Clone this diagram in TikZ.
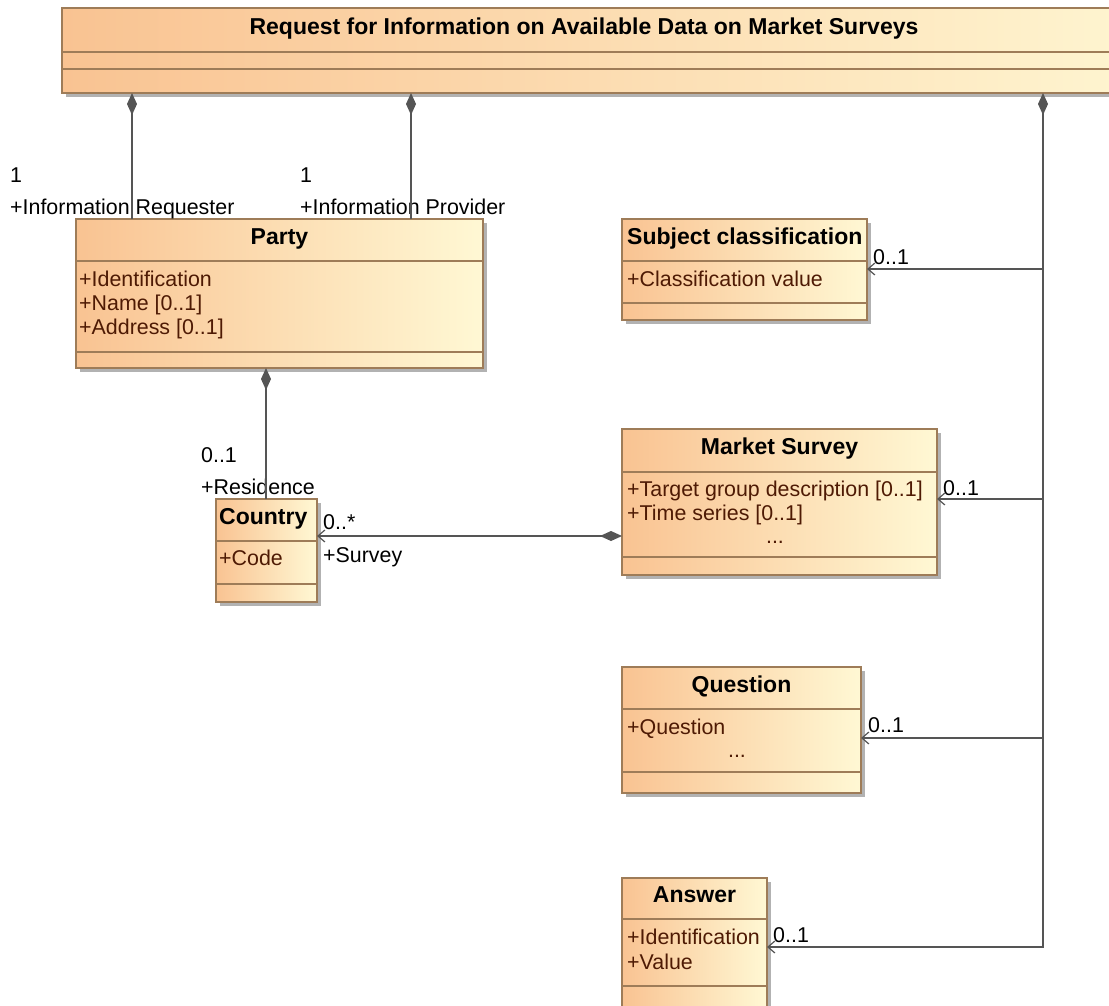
\documentclass[tikz,border=0pt]{standalone}
\usepackage{fontspec}
\setmainfont{Liberation Sans}
\usetikzlibrary{arrows.meta,shadows}
\definecolor{boxL}{HTML}{F9C392}
\definecolor{boxR}{HTML}{FFF8D4}
\definecolor{boxline}{HTML}{9E7C58}
\definecolor{wire}{HTML}{555555}
\definecolor{attrtext}{HTML}{4E1A04}
\begin{document}
\begin{tikzpicture}[x=1pt,y=-1pt,
  cls/.style={draw=boxline, line width=1.3pt, left color=boxL, right color=boxR,
    anchor=north west, inner sep=0pt, outer sep=0pt,
    drop shadow={shadow xshift=4pt, shadow yshift=-4pt, fill=black, opacity=0.3}},
  sep/.style={draw=boxline, line width=1.3pt},
  txt/.style={font=\fontsize{21.4}{24}\selectfont, inner sep=0pt, anchor=base west},
  attr/.style={txt, text=attrtext},
  ttl/.style={font=\fontsize{23}{26}\selectfont\bfseries, inner sep=0pt, anchor=base},
  ttlw/.style={ttl, anchor=base west},
  wireline/.style={draw=wire, line width=1.6pt},
  comp/.style={wireline, {Diamond[length=22pt,width=10pt,fill=wire]}-},
  assoc/.style={wireline, -{Straight Barb[length=7pt,width=12pt,line width=1.2pt]}},
  compassoc/.style={wireline, {Diamond[length=22pt,width=10pt,fill=wire]}-{Straight Barb[length=7pt,width=12pt,line width=1.2pt]}},
]
\useasboundingbox (0,0) rectangle (1109,1005);
\clip (0,0) rectangle (1109,1005);

% ---- classes ----
\node[cls, minimum width=1140pt, minimum height=85pt] (top) at (62,8) {};
\draw[sep] (62,52) -- (1202,52);
\draw[sep] (62,69) -- (1202,69);
\node[ttl] (topT) at (584,34) {Request for Information on Available Data on Market Surveys};

\node[cls, minimum width=407pt, minimum height=149pt] (party) at (76,219) {};
\draw[sep] (76,261) -- (483,261);
\draw[sep] (76,352) -- (483,352);
\node[ttl] (partyT) at (279.5,244) {Party};
\node[attr] (partyA1) at (79,286) {+Identification};
\node[attr] (partyA2) at (79,310) {+Name [0..1]};
\node[attr] (partyA3) at (79,334) {+Address [0..1]};

\node[cls, minimum width=101pt, minimum height=103pt] (country) at (216,499) {};
\draw[sep] (216,541) -- (317,541);
\draw[sep] (216,584) -- (317,584);
\node[ttlw] (countryT) at (219,524) {Country};
\node[attr] (countryA1) at (219,565) {+Code};

\node[cls, minimum width=245pt, minimum height=101pt] (subj) at (622,219) {};
\draw[sep] (622,261) -- (867,261);
\draw[sep] (622,303) -- (867,303);
\node[ttlw] (subjT) at (627,244) {Subject classification};
\node[attr] (subjA1) at (627,286) {+Classification value};

\node[cls, minimum width=315pt, minimum height=146pt] (survey) at (622,429) {};
\draw[sep] (622,472) -- (937,472);
\draw[sep] (622,557) -- (937,557);
\node[ttl] (surveyT) at (779.5,454) {Market Survey};
\node[attr] (surveyA1) at (627,496) {+Target group description [0..1]};
\node[attr] (surveyA2) at (627,520) {+Time series [0..1]};
\node[attr, anchor=base] (surveyA3) at (775,543) {...};

\node[cls, minimum width=239pt, minimum height=126pt] (question) at (622,667) {};
\draw[sep] (622,709) -- (861,709);
\draw[sep] (622,772) -- (861,772);
\node[ttl] (questionT) at (741.5,692) {Question};
\node[attr] (questionA1) at (627,734) {+Question};
\node[attr, anchor=base] (questionA2) at (737,757) {...};

\node[cls, minimum width=145pt, minimum height=160pt] (answer) at (622,878) {};
\draw[sep] (622,919) -- (767,919);
\draw[sep] (622,986) -- (767,986);
\node[ttl] (answerT) at (694.5,902) {Answer};
\node[attr] (answerA1) at (627,944) {+Identification};
\node[attr] (answerA2) at (627,969) {+Value};

% ---- role and multiplicity labels ----
\node[txt] (m1) at (10,182) {1};
\node[txt] (r1) at (10,214) {+Information Requester};
\node[txt] (m2) at (300,182) {1};
\node[txt] (r2) at (300,214) {+Information Provider};
\node[txt] (m3) at (201,462) {0..1};
\node[txt] (r3) at (201,494) {+Residence};
\node[txt] (m4) at (323,529) {0..*};
\node[txt] (r4) at (323,562) {+Survey};
\node[txt] (m5) at (873,264) {0..1};
\node[txt] (m6) at (943,495) {0..1};
\node[txt] (m7) at (868,732) {0..1};
\node[txt] (m8) at (773,942) {0..1};

% ---- connector guides ----
\coordinate (xReq) at (132,0);
\coordinate (xProv) at (411,0);
\coordinate (xRes) at (266,0);
\coordinate (xSp) at (1043,0);
\coordinate (ySubj) at (0,269);
\coordinate (yMS) at (0,499);
\coordinate (yQ) at (0,738);
\coordinate (yA) at (0,947);
\coordinate (yCS) at (0,536);

% ---- connectors ----
\draw[comp] (top.south -| xReq) -- (party.north -| xReq);
\draw[comp] (top.south -| xProv) -- (party.north -| xProv);
\draw[comp] (party.south -| xRes) -- (country.north -| xRes);
\draw[compassoc] (survey.west |- yCS) -- (country.east |- yCS);
\draw[compassoc] (top.south -| xSp) -- (xSp |- yA) -- (answer.east |- yA);
\draw[assoc] (xSp |- ySubj) -- (subj.east |- ySubj);
\draw[assoc] (xSp |- yMS) -- (survey.east |- yMS);
\draw[assoc] (xSp |- yQ) -- (question.east |- yQ);
\end{tikzpicture}
\end{document}
